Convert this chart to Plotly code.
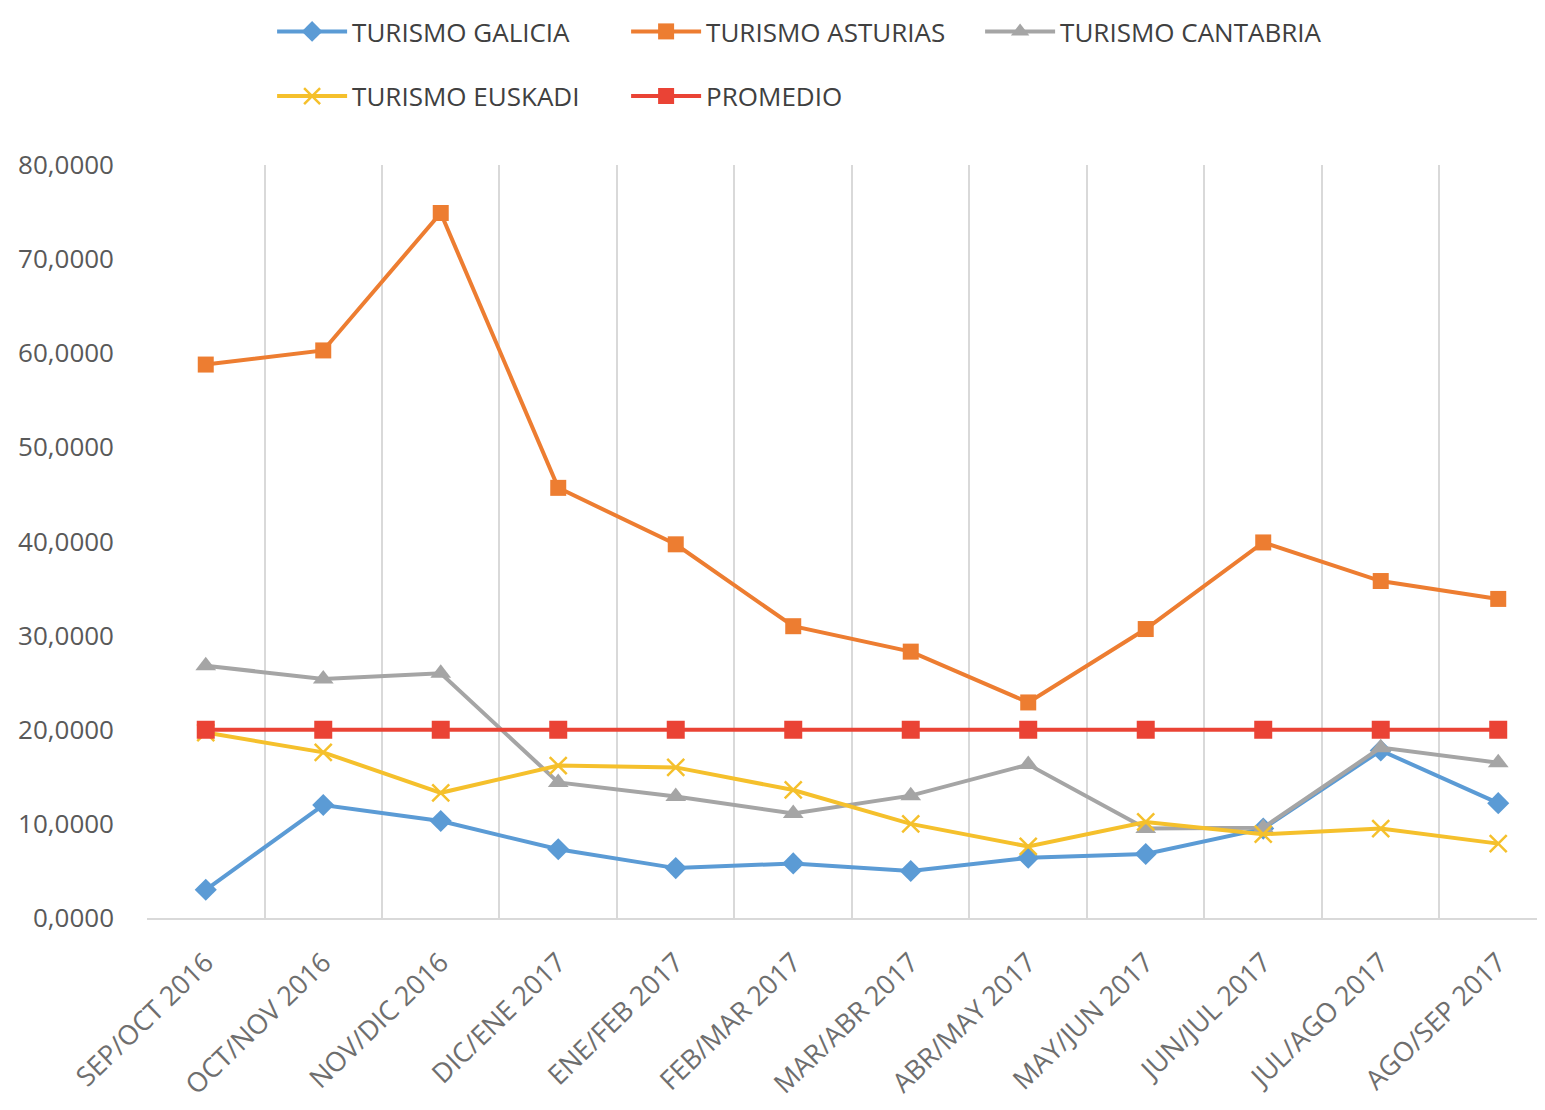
import plotly.graph_objects as go

categories = ["SEP/OCT 2016", "OCT/NOV 2016", "NOV/DIC 2016", "DIC/ENE 2017", "ENE/FEB 2017",
              "FEB/MAR 2017", "MAR/ABR 2017", "ABR/MAY 2017", "MAY/JUN 2017", "JUN/JUL 2017",
              "JUL/AGO 2017", "AGO/SEP 2017"]
galicia = [3.0, 12.0, 10.3, 7.3, 5.3, 5.8, 5.0, 6.4, 6.8, 9.5, 17.8, 12.2]
asturias = [58.8, 60.3, 74.9, 45.7, 39.7, 31.0, 28.3, 22.9, 30.7, 39.9, 35.8, 33.9]
cantabria = [26.8, 25.4, 26.0, 14.4, 12.9, 11.1, 13.0, 16.3, 9.5, 9.6, 18.1, 16.5]
euskadi = [19.7, 17.6, 13.3, 16.2, 16.0, 13.6, 10.0, 7.6, 10.2, 8.9, 9.5, 7.9]
promedio = [20.0] * 12
y_ticks = [0, 10, 20, 30, 40, 50, 60, 70, 80]
y_tick_labels = ["0,0000", "10,0000", "20,0000", "30,0000", "40,0000", "50,0000", "60,0000", "70,0000", "80,0000"]

series = [
    ("TURISMO GALICIA", galicia, "#5B9BD5", dict(symbol="diamond", size=17), "legend"),
    ("TURISMO ASTURIAS", asturias, "#ED7D31", dict(symbol="square", size=16), "legend"),
    ("TURISMO CANTABRIA", cantabria, "#A5A5A5", dict(symbol="triangle-up", size=18), "legend"),
    ("TURISMO EUSKADI", euskadi, "#F5C02C", dict(symbol="x-thin", size=17), "legend2"),
    ("PROMEDIO", promedio, "#EA4335", dict(symbol="square", size=18), "legend2"),
]

fig = go.Figure()
for name, vals, color, mk, lg in series:
    marker = dict(color=color, **mk)
    if mk["symbol"] == "x-thin":
        marker["line"] = dict(color=color, width=2.5)
    fig.add_trace(go.Scatter(
        x=categories, y=vals, name=name, mode="lines+markers",
        line=dict(color=color, width=4), marker=marker, legend=lg,
    ))

legend_common = dict(
    orientation="h", xanchor="left", yanchor="middle",
    font=dict(family="Open Sans", size=26, color="#404040"),
    itemwidth=70, entrywidth=269, entrywidthmode="pixels",
    bgcolor="rgba(0,0,0,0)", tracegroupgap=0,
)

fig.update_layout(
    width=1529, height=1094,
    paper_bgcolor="white", plot_bgcolor="white",
    margin=dict(l=139, r=0, t=157, b=182),
    showlegend=True,
    legend=dict(x=0.09, y=1.1775, **legend_common),
    legend2=dict(x=0.09, y=1.0914, **legend_common),
    font=dict(family="Open Sans", color="#595959"),
    xaxis=dict(
        type="category", range=[-0.5, 11.33],
        showgrid=True, gridcolor="#D9D9D9", gridwidth=2, tickson="boundaries",
        showline=True, linecolor="#D9D9D9", linewidth=2,
        ticks="", tickangle=-44, tickfont=dict(family="Open Sans", size=27, color="#6E6E6E"),
        ticklabelstandoff=16, zeroline=False,
    ),
    yaxis=dict(
        range=[0, 80], tickvals=y_ticks, ticktext=y_tick_labels,
        showgrid=False, zeroline=False, showline=False, ticks="",
        tickfont=dict(family="Open Sans", size=26, color="#595959"),
        ticklabelstandoff=32,
    ),
)

fig.write_html("out.html")
